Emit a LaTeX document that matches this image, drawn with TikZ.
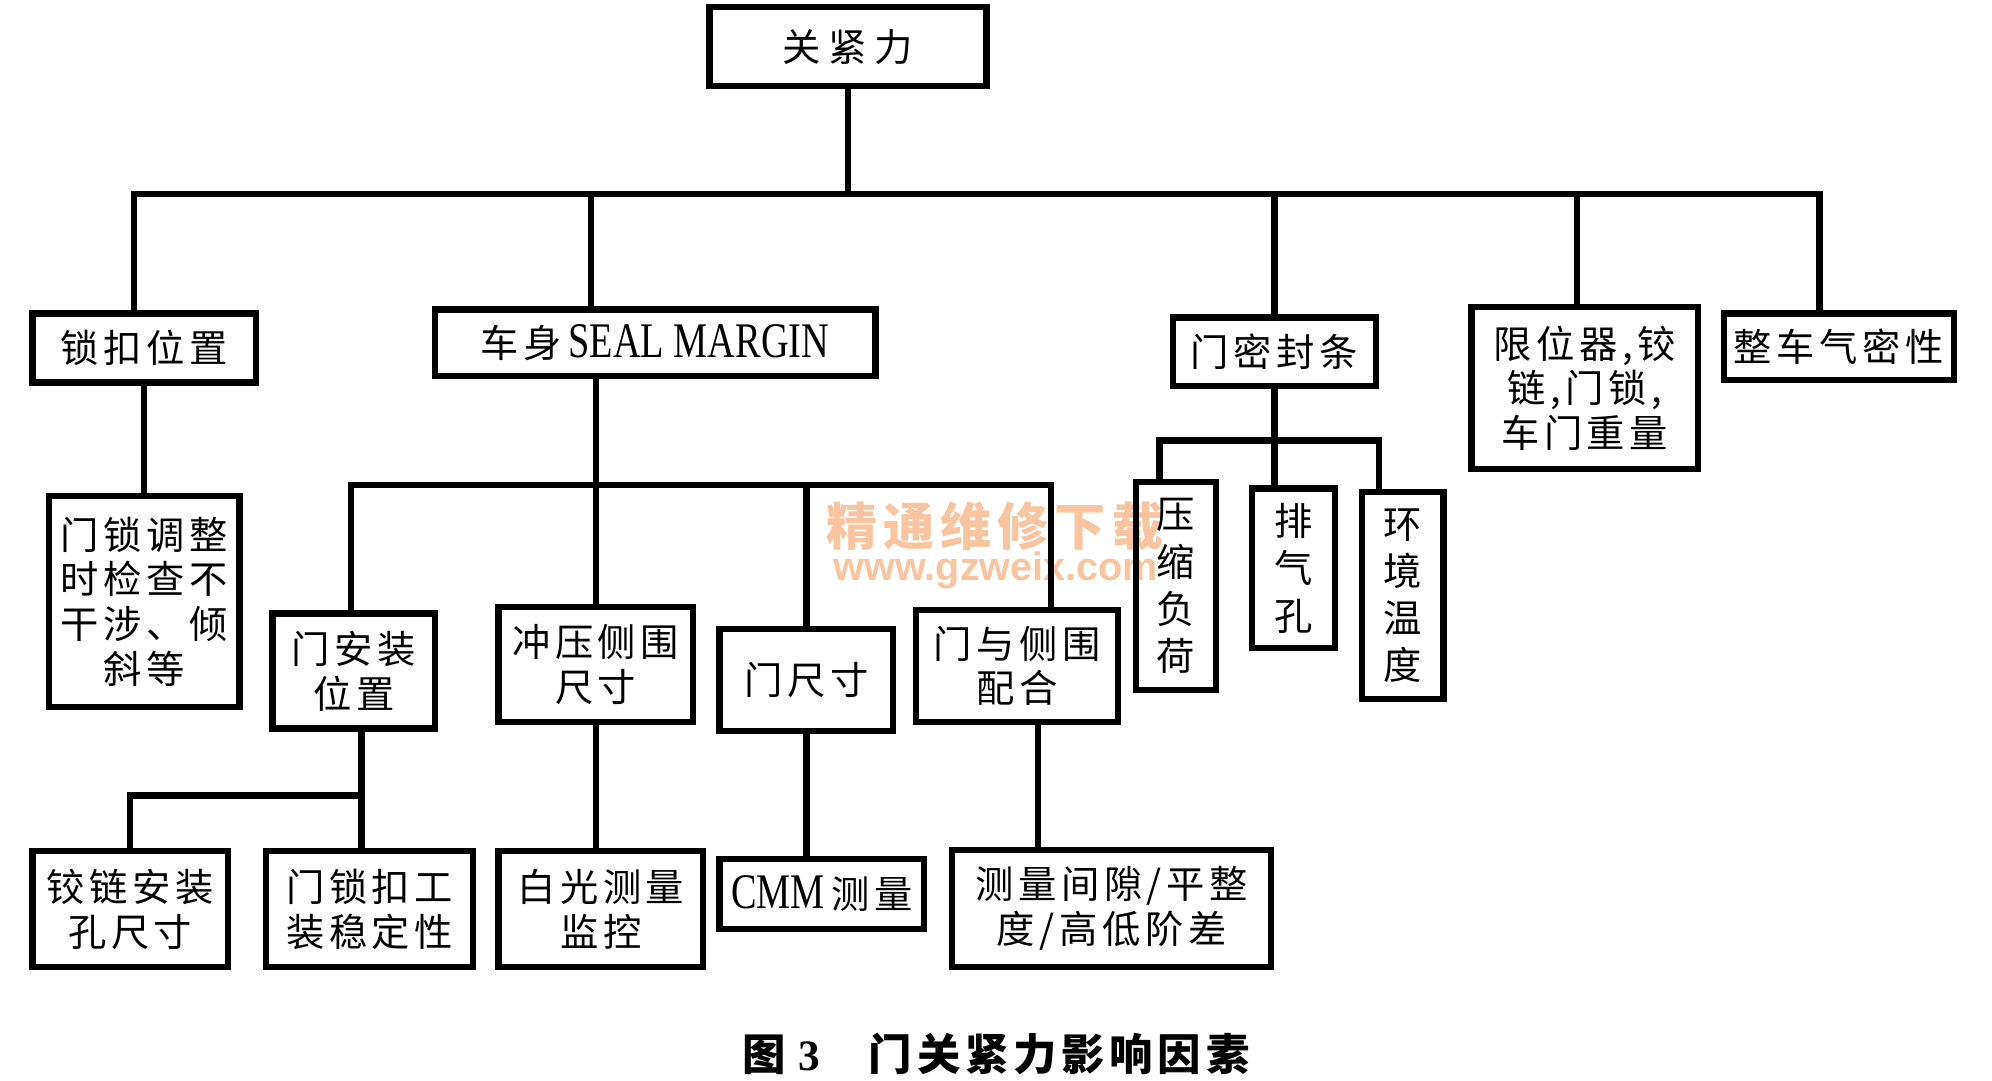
\documentclass[tikz,border=0pt]{standalone}
\usepackage{fontspec}
\usepackage{graphicx}
\setmainfont{Liberation Serif}
\newfontfamily\cjk[LetterSpace=12]{Noto Sans CJK SC}
\newfontfamily\cjkcap[LetterSpace=11]{Noto Sans CJK SC}
\newfontfamily\wmsans{Liberation Sans}
\newcommand\latw[1]{{\rmfamily\scalebox{1}[1.3]{#1}}}
\definecolor{wmcol}{RGB}{249,196,158}
\begin{document}
\begin{tikzpicture}[x=1pt,y=-1pt,
  bx/.style={draw, line width=5pt, inner sep=0pt, align=center, font=\cjk\fontsize{30}{35}\selectfont},
  vbx/.style={bx, font=\cjk\fontsize{30}{37}\selectfont},
  ln/.style={line width=5pt, line join=miter, line cap=rect}]
\useasboundingbox (0,0) rectangle (1560,846);
% watermark
\node[font=\cjk\bfseries\fontsize{40}{40}\selectfont, text=wmcol] (wm1) at (779,412) {精通维修下载};
\node[font=\wmsans\bfseries\fontsize{31}{31}\selectfont, text=wmcol] (wm2) at (780,447) {www.gzweix.com};
% level 0
\node[bx, minimum width=217, minimum height=62] (top) at (664,36.5) {关\hspace{6pt}紧\hspace{6pt}力};
% level 1
\node[bx, minimum width=175, minimum height=54] (suo) at (113,272.5) {锁扣位置};
\node[bx, minimum width=345, minimum height=52] (seal) at (513,268.5) {车身\,\latw{SEAL MARGIN}};
\node[bx, minimum width=159, minimum height=54] (mifeng) at (998,275.5) {门密封条};
\node[bx, minimum width=177, minimum height=127] (xian) at (1241,304) {限位器,铰\\链,门锁,\\车门重量};
\node[bx, minimum width=180, minimum height=52] (zheng) at (1440,271.5) {整车气密性};
% level 2
\node[bx, minimum width=149, minimum height=165] (mensuo) at (113,471) {门锁调整\\时检查不\\干涉、倾\\斜等};
\node[bx, minimum width=127, minimum height=90] (anz) at (277,525.5) {门安装\\位置};
\node[bx, minimum width=152, minimum height=90] (chong) at (466.5,520.5) {冲压侧围\\尺寸};
\node[bx, minimum width=136, minimum height=80] (menc) at (631.5,532.5) {门尺寸};
\node[bx, minimum width=158, minimum height=88] (peihe) at (796.5,521.5) {门与侧围\\配合};
\node[vbx, minimum width=63, minimum height=163] (yasuo) at (921,459) {压\\缩\\负\\荷};
\node[vbx, minimum width=65, minimum height=125] (paiqi) at (1013,445) {排\\气\\孔};
\node[vbx, minimum width=64, minimum height=162] (huan) at (1098.5,466.5) {环\\境\\温\\度};
% level 3
\node[bx, minimum width=153, minimum height=91] (jiao) at (102,712) {铰链安装\\孔尺寸};
\node[bx, minimum width=162, minimum height=91] (suokou) at (289.5,712) {门锁扣工\\装稳定性};
\node[bx, minimum width=160, minimum height=91] (bai) at (470.5,712) {白光测量\\监控};
\node[bx, minimum width=160, minimum height=55] (cmm) at (643.5,700) {\latw{CMM}\,测量};
\node[bx, minimum width=250, minimum height=92] (celiang) at (870.5,711.5) {测量间隙/平整\\度/高低阶差};
% caption
\node[font=\cjkcap\bfseries\fontsize{34}{34}\selectfont] (cap) at (780,825) {图\hspace{10pt}{\rmfamily\bfseries 3}\hspace{38pt}门关紧力影响因素};
% connectors
\coordinate (bL) at (105,152);
\coordinate (bR) at (1425,152);
\coordinate (dSeal) at (463,152);
\coordinate (dMi) at (998,152);
\coordinate (dXian) at (1235,152);
\draw[ln] (top.south) -- (top.south |- bL);
\draw[ln] (bL |- suo.north) -- (bL) -- (bR) -- (bR |- zheng.north);
\draw[ln] (dSeal) -- (dSeal |- seal.north);
\draw[ln] (dMi) -- (dMi |- mifeng.north);
\draw[ln] (dXian) -- (dXian |- xian.north);
\draw[ln] (suo.south) -- (mensuo.north);
\coordinate (sL) at (275,380);
\coordinate (sR) at (823,380);
\draw[ln] (chong.north |- seal.south) -- (chong.north);
\draw[ln] (sL |- anz.north) -- (sL) -- (sR) -- (sR |- peihe.north);
\draw[ln] (menc.north |- sL) -- (menc.north);
\coordinate (aJ) at (283,623);
\draw[ln] (aJ |- anz.south) -- (aJ |- suokou.north);
\draw[ln] (aJ) -- (aJ -| jiao.north) -- (jiao.north);
\draw[ln] (chong.south) -- (chong.south |- bai.north);
\draw[ln] (menc.south) -- (menc.south |- cmm.north);
\coordinate (pJ) at (813,620);
\draw[ln] (pJ |- peihe.south) -- (pJ |- celiang.north);
\coordinate (mL) at (908,345);
\coordinate (mR) at (1080,345);
\coordinate (mJ) at (998,345);
\draw[ln] (mJ |- mifeng.south) -- (mJ |- paiqi.north);
\draw[ln] (mL |- yasuo.north) -- (mL) -- (mR) -- (mR |- huan.north);
\end{tikzpicture}
\end{document}
